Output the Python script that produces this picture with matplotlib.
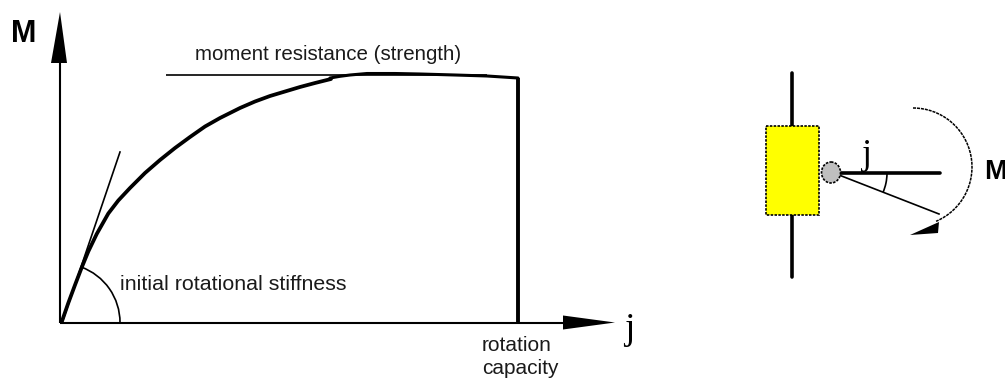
import numpy as np
import matplotlib
matplotlib.use("Agg")
import matplotlib.pyplot as plt
from matplotlib.patches import Rectangle, Ellipse, Polygon, Arc

# Moment-rotation curve, in picture units
curve_x = [61.7, 68.3, 75, 81.7, 88.3, 96.7, 108.3, 118.3, 130, 145, 160, 175, 190, 205, 220, 240, 255, 270, 285, 300, 315, 331]
curve_y = [322, 303, 285, 267.5, 251.5, 234, 213.5, 200.5, 188, 173, 160, 148, 137, 126.5, 118, 108, 101.5, 96, 91.5, 87, 83, 79]
plateau_x = [330, 340, 350, 367, 395, 420, 455, 487, 518]
plateau_y = [78, 76.3, 75, 73.5, 73.5, 74, 75, 76, 78]
drop_x = [518, 518]
drop_y = [78, 323]
tangent_x = [62, 120]
tangent_y = [323, 152]
strength_x = [166, 487]
strength_y = [74.5, 74.5]

labels = {
    "strength": "moment resistance (strength)",
    "stiffness": "initial rotational stiffness",
    "rotation": "rotation",
    "capacity": "capacity",
}

W, H = 1005, 379
fig = plt.figure(figsize=(W / 100, H / 100), dpi=100)
ax = fig.add_axes([0, 0, 1, 1])
ax.set_xlim(0, W)
ax.set_ylim(H, 0)
ax.axis("off")

SANS = "Liberation Sans"
SERIF = "Liberation Serif"
INK = "#1a1a1a"

# axes of the diagram
ax.plot([60, 60], [323, 60], color="k", lw=1.5, solid_capstyle="butt")
ax.plot([60, 565], [322.5, 322.5], color="k", lw=1.5, solid_capstyle="butt")
ax.add_patch(Polygon([(60, 12), (67, 63), (51, 63)], closed=True, fc="k", ec="none"))
ax.add_patch(Polygon([(615, 322.5), (563, 329.5), (563, 315.5)], closed=True, fc="k", ec="none"))

# curves
ax.plot(curve_x, curve_y, color="k", lw=2.7, solid_capstyle="round", solid_joinstyle="round")
ax.plot(plateau_x, plateau_y, color="k", lw=2.2, solid_capstyle="round", solid_joinstyle="round")
ax.plot(drop_x, drop_y, color="k", lw=2.8, solid_capstyle="butt")
ax.plot(tangent_x, tangent_y, color="k", lw=1.2)
ax.plot(strength_x, strength_y, color="k", lw=1.2, solid_capstyle="butt")
ax.add_patch(Arc((61, 322.5), 118, 118, theta1=-70, theta2=0, color="k", lw=1.2))

# texts
ax.text(195, 54.5, labels["strength"], fontsize=14.8, family=SANS, va="center", ha="left", color=INK)
ax.text(120, 284.5, labels["stiffness"], fontsize=15.4, family=SANS, va="center", ha="left", color=INK)
ax.text(482, 345.5, labels["rotation"], fontsize=15.0, family=SANS, va="center", ha="left", color=INK)
ax.text(482, 368, labels["capacity"], fontsize=15.0, family=SANS, va="center", ha="left", color=INK)
ax.text(11, 34, "M", fontsize=22, family=SANS, weight="bold", va="center", ha="left")
ax.text(624, 330, "j", fontsize=27, family=SERIF, va="center", ha="left")

# joint sketch
ax.plot([792, 792], [73, 277], color="k", lw=2.6, solid_capstyle="round", zorder=1)
ax.add_patch(Rectangle((766, 126), 53, 89, fc="#ffff00", ec="k", lw=1.2, ls=(0, (1.5, 0.8)), zorder=2))
ax.plot([838, 940], [172.5, 172.5], color="k", lw=2.6, solid_capstyle="round", zorder=2)
ax.plot([839, 939], [175, 214], color="k", lw=1.2, zorder=2)
ax.add_patch(Ellipse((831, 172.5), 19, 21, fc="#bfbfbf", ec="k", lw=1.2, ls=(0, (1.5, 0.8)), zorder=3))
ax.add_patch(Arc((838, 173), 98, 98, theta1=1, theta2=23, color="k", lw=1.2, zorder=2))
ax.add_patch(Arc((913, 167), 118, 118, theta1=-90, theta2=67, color="k", lw=1.1, ls=(0, (2, 0.6))))
ax.add_patch(Polygon([(910, 235), (939, 222), (938, 233)], closed=True, fc="k", ec="none"))
ax.text(862, 156, "j", fontsize=26, family=SERIF, va="center", ha="left")
ax.text(984, 172, "M", fontsize=19.5, family=SANS, weight="bold", va="center", ha="left")

fig.savefig("out.png", dpi=100, facecolor="white")
